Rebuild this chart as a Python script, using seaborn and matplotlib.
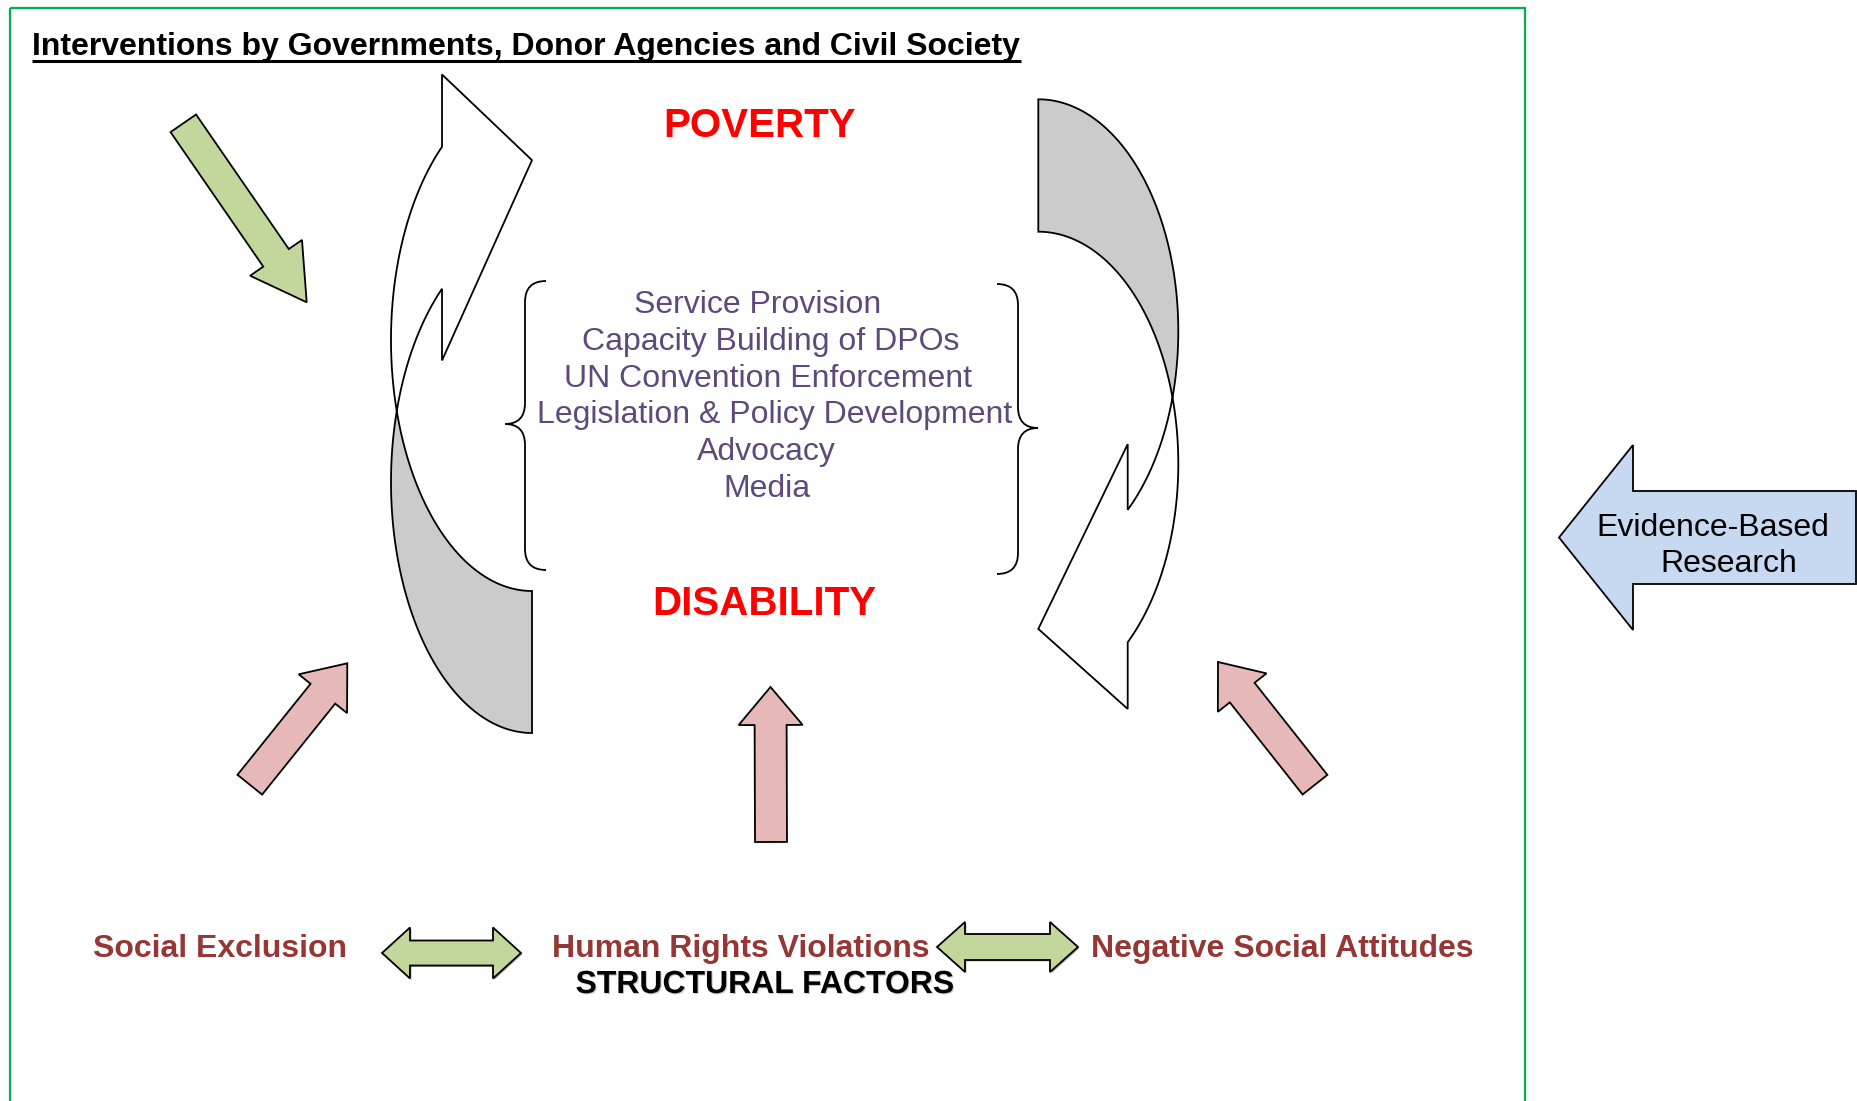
import numpy as np
import matplotlib
matplotlib.use("Agg")
import matplotlib.pyplot as plt
import matplotlib.patheffects as pe
from matplotlib.patches import Polygon, Rectangle, PathPatch
from matplotlib.path import Path
import seaborn as sns

# ---- texts of the diagram ----
title = "Interventions by Governments, Donor Agencies and Civil Society"
main_labels = ["POVERTY", "DISABILITY"]
interventions = ["Service Provision", "Capacity Building of DPOs", "UN Convention Enforcement",
                 "Legislation & Policy Development", "Advocacy", "Media"]
factors = ["Social Exclusion", "Human Rights Violations", "Negative Social Attitudes"]
footer = "STRUCTURAL FACTORS"
research = ["Evidence-Based", "Research"]

# ---- layout (pixel coordinates, y down) ----
main_xy = [(760, 137), (764, 615)]
interv_x = [758, 771, 768, 775, 766, 767]
interv_base = [313, 350, 387, 423, 460, 497]
factor_x = [220, 741, 1282]
factor_base = 957
footer_xy = (765, 993)
research_xy = [(1713, 536), (1729, 572)]

# colours
GREEN = "#C3D69B"
PINK = "#E6B9B8"
BLUE = "#C6D9F1"
GREY = "#CBCBCB"
PURPLE = "#5F497A"
DARKRED = "#953735"
BORDER = "#00B050"

sns.set_theme(style="white")
plt.rcParams["font.family"] = ["Liberation Sans", "DejaVu Sans"]

W, H = 1858, 1101
fig = plt.figure(figsize=(W / 100, H / 100), dpi=100)
ax = fig.add_axes([0, 0, 1, 1])
ax.set_xlim(0, W)
ax.set_ylim(H, 0)
ax.axis("off")


def block_arrow(p0, p1, sw, hw, hl):
    p0, p1 = np.array(p0, float), np.array(p1, float)
    d = p1 - p0
    L = np.hypot(*d)
    u = d / L
    n = np.array([-u[1], u[0]])
    b = p1 - u * hl
    pts = [p0 + n * sw / 2, b + n * sw / 2, b + n * hw / 2, p1,
           b - n * hw / 2, b - n * sw / 2, p0 - n * sw / 2]
    return np.array(pts)


def double_arrow(x0, x1, y, sw, hw, hl):
    pts = [(x0, y), (x0 + hl, y - hw / 2), (x0 + hl, y - sw / 2), (x1 - hl, y - sw / 2),
           (x1 - hl, y - hw / 2), (x1, y), (x1 - hl, y + hw / 2), (x1 - hl, y + sw / 2),
           (x0 + hl, y + sw / 2), (x0 + hl, y + hw / 2)]
    return np.array(pts)


def curved_arrow(ox, oy, flip, rx, ry, th, ah, e_out, e_in, tip_off):
    # local frame: origin at outer corner of the tail, band bulges to -x, head towards -y
    def A(phi):
        return np.column_stack([-rx * np.sin(phi), -ry + ry * np.cos(phi)])

    def B(phi):
        return np.column_stack([-rx * np.sin(phi), -th - ry + ry * np.cos(phi)])

    phi_cA = np.arccos(-th / (2 * ry))
    phi_cB = np.arccos(th / (2 * ry))
    phi_j = np.pi - np.arcsin(ah / rx)
    k = ry * np.sqrt(1 - (ah / rx) ** 2)
    yjA = -ry - k
    yjB = -th - ry - k
    grey = np.vstack([A(np.linspace(phi_cA, 0, 120)), B(np.linspace(0, phi_cB, 120))])
    head = np.array([(-ah, yjB - e_out), (0, yjB - e_out + tip_off), (-ah, yjA + e_in)])
    white = np.vstack([B(np.linspace(phi_cB, phi_j, 160)), head,
                       A(np.linspace(phi_j, phi_cA, 120))])
    tr = lambda p: np.column_stack([ox + flip * p[:, 0], oy + flip * p[:, 1]])
    return tr(grey), tr(white)


def brace(xl, y_top, y_bot, y_tip, s, r=21, d=20):
    verts = [(xl - s * r, y_top), (xl, y_top), (xl, y_top + r),
             (xl, y_tip - r), (xl, y_tip), (xl + s * d, y_tip),
             (xl, y_tip), (xl, y_tip + r),
             (xl, y_bot - r), (xl, y_bot), (xl - s * r, y_bot)]
    codes = [Path.MOVETO, Path.CURVE3, Path.CURVE3,
             Path.LINETO, Path.CURVE3, Path.CURVE3,
             Path.CURVE3, Path.CURVE3,
             Path.LINETO, Path.CURVE3, Path.CURVE3]
    return Path(verts, codes)


def add_poly(pts, fc, lw=1.3, z=2, shadow=False):
    p = Polygon(pts, closed=True, facecolor=fc, edgecolor="black", lw=lw, zorder=z)
    if shadow:
        p.set_path_effects([pe.SimplePatchShadow(offset=(1.0, -1.0), shadow_rgbFace="#555555", alpha=0.5),
                            pe.Normal()])
    ax.add_patch(p)


# border
ax.add_patch(Rectangle((10, 8), 1515, 1120, fill=False, edgecolor=BORDER, lw=1.6, zorder=1))

# title
ax.text(32, 55, title, fontsize=23, fontweight="bold", ha="left", va="baseline", color="black")
ax.plot([32, 1021], [60.5, 60.5], color="black", lw=2.2, solid_capstyle="butt")

# curved arrows
g, w = curved_arrow(532, 733, 1, 141, 251, 142, 90, 72.3, 71.7, 85.7)
add_poly(g, GREY)
add_poly(w, "white", z=3)
g, w = curved_arrow(1038.3, 99.3, -1, 140, 232, 132.4, 89.4, 66.7, 65.7, 80)
add_poly(g, GREY)
add_poly(w, "white", z=3)

# straight arrows
add_poly(block_arrow((183.3, 123.3), (306.7, 302.3), 31, 63, 54), GREEN)
add_poly(block_arrow((249.8, 784.7), (347.3, 663.3), 31.6, 62, 39), PINK)
add_poly(block_arrow((771, 842), (770.5, 687), 32, 64, 38), PINK)
add_poly(block_arrow((1315, 784.7), (1218, 662), 31.6, 62, 39), PINK)
add_poly(block_arrow((1856, 537.5), (1559, 537.5), 93, 185, 74), BLUE)
add_poly(double_arrow(382, 521, 953, 25, 51, 28), GREEN, shadow=True)
add_poly(double_arrow(937, 1078, 947, 26, 50, 28), GREEN, shadow=True)

# braces
ax.add_patch(PathPatch(brace(525, 281, 570, 424, -1), fill=False, lw=1.3, edgecolor="black"))
ax.add_patch(PathPatch(brace(1018, 284, 574, 428, 1), fill=False, lw=1.3, edgecolor="black"))

# texts
for lab, (x, y) in zip(main_labels, main_xy):
    ax.text(x, y, lab, fontsize=29, fontweight="bold", color="#FF0000", ha="center", va="baseline")
for lab, x, y in zip(interventions, interv_x, interv_base):
    ax.text(x, y, lab, fontsize=23, color=PURPLE, ha="center", va="baseline")
for lab, x in zip(factors, factor_x):
    ax.text(x, factor_base, lab, fontsize=23, fontweight="bold", color=DARKRED, ha="center", va="baseline")
ax.text(footer_xy[0], footer_xy[1], footer, fontsize=23, fontweight="bold", color="black",
        ha="center", va="baseline",
        path_effects=[pe.SimplePatchShadow(offset=(0.8, -0.8), shadow_rgbFace="#999999", alpha=0.5), pe.Normal()])
for lab, (x, y) in zip(research, research_xy):
    ax.text(x, y, lab, fontsize=23, color="black", ha="center", va="baseline", zorder=5)

fig.savefig("out.png", dpi=100)
